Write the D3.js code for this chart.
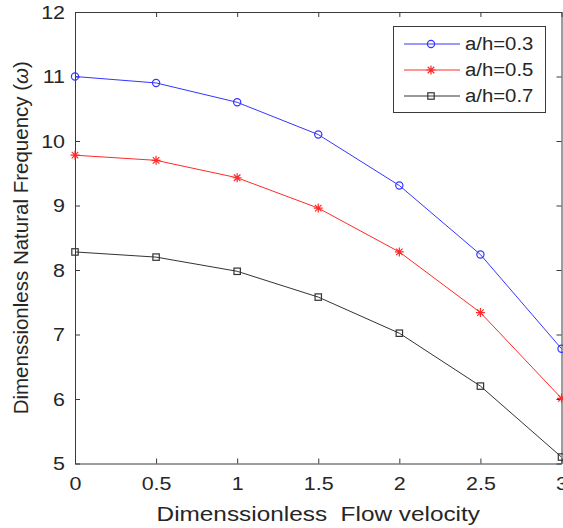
<!DOCTYPE html>
<html>
<head>
<meta charset="utf-8">
<script src="https://cdn.jsdelivr.net/npm/d3@7"></script>
<style>
	body { margin:0; background:#fff; }
	text { font-family:"Liberation Sans", Arial, sans-serif; fill:#262626; }
</style>
</head>
<body>
<div id="plot"></div>
<script>
//Data;
const xVals = [0, 0.5, 1, 1.5, 2, 2.5, 3];
const ah03 = [11.0, 10.9, 10.6, 10.1, 9.31, 8.24, 6.78];
const ah05 = [9.78, 9.70, 9.43, 8.96, 8.28, 7.34, 6.01];
const ah07 = [8.28, 8.20, 7.98, 7.58, 7.02, 6.20, 5.10];
const seriesNames = ["a/h=0.3", "a/h=0.5", "a/h=0.7"];
const xTicks = [0, 0.5, 1, 1.5, 2, 2.5, 3];
const yTicks = [5, 6, 7, 8, 9, 10, 11, 12];

//Set Height and Width Vars;
const w = 563;
const h = 528;
const stretch = 1.13;

//Initialize SVG;
const svg = d3.select("#plot")
			  .append("svg")
				.attr("width", w)
				.attr("height", h);

//Scales;
const x = d3.scaleLinear().domain([0, 3]).range([75, 561.5]);
const y = d3.scaleLinear().domain([5, 12]).range([463.5, 12]);

//Series styles;
const series = [
	{name: seriesNames[0], vals: ah03, color: "#3535ff", marker: "circle"},
	{name: seriesNames[1], vals: ah05, color: "#ff2a2a", marker: "star"},
	{name: seriesNames[2], vals: ah07, color: "#333333", marker: "square"}
];

//Axes;
const axisColor = "#3a3a3a";

const gx = svg.append("g")
			  .attr("transform", "translate(0," + y(5) + ")")
			  .call(d3.axisBottom(x).tickValues(xTicks).tickSizeInner(-5).tickSizeOuter(0).tickPadding(13).tickFormat(d3.format("")));
const gy = svg.append("g")
			  .attr("transform", "translate(" + x(0) + ",0)")
			  .call(d3.axisLeft(y).tickValues(yTicks).tickSizeInner(-5).tickSizeOuter(0).tickPadding(10).tickFormat(d3.format("d")));
const gt = svg.append("g")
			  .attr("transform", "translate(0," + y(12) + ")")
			  .call(d3.axisTop(x).tickValues(xTicks).tickSizeInner(-5).tickSizeOuter(0).tickFormat(""));
const gr = svg.append("g")
			  .attr("transform", "translate(" + x(3) + ",0)")
			  .call(d3.axisRight(y).tickValues(yTicks).tickSizeInner(-5).tickSizeOuter(0).tickFormat(""));

[gx, gy, gt, gr].forEach(function(g){
	g.select(".domain").attr("stroke", axisColor).attr("stroke-width", 1);
	g.selectAll(".tick line").attr("stroke", axisColor).attr("stroke-width", 1);
	g.selectAll(".tick text")
	 .attr("font-size", 19)
	 .attr("font-family", "Liberation Sans, Arial, sans-serif")
	 .attr("fill", "#262626");
});

//Stretch tick text a little wider;
gx.selectAll(".tick text").attr("transform", "scale(" + stretch + ",1)");
gy.selectAll(".tick text")
  .attr("x", -10 / stretch)
  .attr("transform", "scale(" + stretch + ",1)");

//Lines and markers;
const line = d3.line()
			   .x(function(d, i){ return x(xVals[i]); })
			   .y(function(d){ return y(d); });

function drawMarker(g, type, color, cx, cy){
	if(type === "circle"){
		g.append("circle")
		 .attr("cx", cx).attr("cy", cy).attr("r", 3.6)
		 .attr("fill", "none").attr("stroke", color).attr("stroke-width", 1.2);
	} else if(type === "square"){
		g.append("rect")
		 .attr("x", cx - 3.2).attr("y", cy - 3.2).attr("width", 6.4).attr("height", 6.4)
		 .attr("fill", "none").attr("stroke", color).attr("stroke-width", 1.2);
	} else {
		const r = 4.5, d = r * 0.72;
		g.append("path")
		 .attr("d", "M" + (cx - r) + "," + cy + "H" + (cx + r) +
					"M" + cx + "," + (cy - r) + "V" + (cy + r) +
					"M" + (cx - d) + "," + (cy - d) + "L" + (cx + d) + "," + (cy + d) +
					"M" + (cx - d) + "," + (cy + d) + "L" + (cx + d) + "," + (cy - d))
		 .attr("stroke", color).attr("stroke-width", 1.2).attr("fill", "none");
	}
}

series.forEach(function(s){
	const g = svg.append("g");
	g.append("path")
	 .datum(s.vals)
	 .attr("d", line)
	 .attr("fill", "none")
	 .attr("stroke", s.color)
	 .attr("stroke-width", 1);
	s.vals.forEach(function(v, i){
		drawMarker(g, s.marker, s.color, x(xVals[i]), y(v));
	});
});

//Axis Labels;
svg.append("g")
   .attr("transform", "translate(" + ((x(0) + x(3)) / 2) + ",521) scale(1.16,1)")
   .append("text")
	 .attr("text-anchor", "middle")
	 .attr("font-size", 21)
	 .style("white-space", "pre")
	 .text("Dimenssionless  Flow velocity");

const yl = svg.append("text")
			  .attr("transform", "translate(28," + ((y(5) + y(12)) / 2) + ") rotate(-90)")
			  .attr("text-anchor", "middle")
			  .attr("font-size", 20.5);
yl.append("tspan").text("Dimenssionless Natural Frequency (");
yl.append("tspan").attr("font-style", "italic").text("\u03C9");
yl.append("tspan").text(")");

//Legend;
const lg = svg.append("g");
lg.append("rect")
  .attr("x", 393.5).attr("y", 26.5).attr("width", 152).attr("height", 86)
  .attr("fill", "#fff").attr("stroke", "#3a3a3a").attr("stroke-width", 1);

series.forEach(function(s, i){
	const ry = 44 + i * 26;
	lg.append("line")
	  .attr("x1", 404).attr("x2", 460).attr("y1", ry).attr("y2", ry)
	  .attr("stroke", s.color).attr("stroke-width", 1);
	drawMarker(lg, s.marker, s.color, 431, ry);
	lg.append("g")
	  .attr("transform", "translate(465," + ry + ") scale(" + stretch + ",1)")
	  .append("text")
		.attr("dy", "0.36em")
		.attr("font-size", 18)
		.text(s.name);
});
</script>
</body>
</html>
